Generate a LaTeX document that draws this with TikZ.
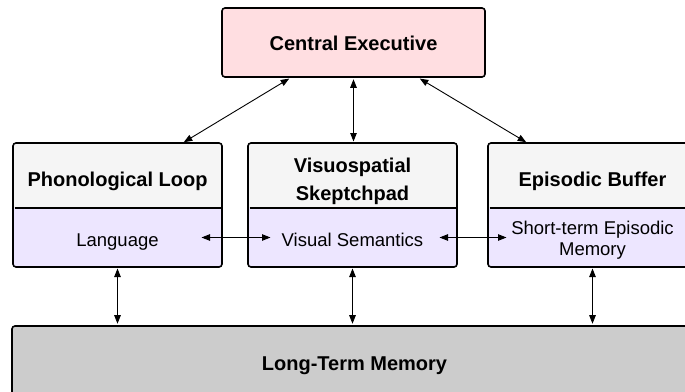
\documentclass[tikz,border=0pt]{standalone}
\usepackage{fontspec}
\setmainfont{Liberation Sans}
\usetikzlibrary{arrows.meta,positioning}
\definecolor{cepink}{RGB}{255,222,225}
\definecolor{bodylilac}{RGB}{237,230,255}
\definecolor{headgrey}{RGB}{245,245,245}
\definecolor{ltmgrey}{RGB}{204,204,204}

\begin{document}
\begin{tikzpicture}[x=1pt,y=-1pt,<->,>={Triangle[length=8.5pt,width=6.5pt]},
        line width=0.9pt,shorten >=1.5pt,shorten <=1.5pt,
        titlefont/.style={font=\fontsize{20}{28}\selectfont\bfseries},
        head/.style={titlefont,fill=headgrey,minimum width=209pt,
          minimum height=65pt,inner sep=0pt,outer sep=0pt,align=center,
          text height=25pt,text depth=4pt},
        body/.style={font=\fontsize{18.5}{20.5}\selectfont,fill=bodylilac,
          minimum width=209pt,minimum height=59pt,inner sep=0pt,
          outer sep=0pt,align=center,text height=21pt,text depth=4pt},
        outline/.style={-,draw,line width=1.6pt,rounded corners=3pt}]
  \clip (0,0) rectangle (685,391);

  \node[titlefont,outline,fill=cepink,minimum width=263pt,
        minimum height=69pt,inner sep=0pt,text height=20.5pt,
        text depth=4pt] (ce) at (353.5,42.5) {Central Executive};

  \node[head] (plh) at (117.5,175.5) {Phonological Loop};
  \node[body] (plb) [below=0pt of plh] {Language};
  \node[head,text height=53pt] (vsh) at (352.5,175.5) {Visuospatial\\Skeptchpad};
  \node[body] (vsb) [below=0pt of vsh] {Visual Semantics};
  \node[head] (ebh) at (592.5,175.5) {Episodic Buffer};
  \node[body,text height=39pt] (ebb) [below=0pt of ebh] {Short-term Episodic\\Memory};

  \node[titlefont,outline,fill=ltmgrey,minimum width=685pt,
        minimum height=74pt,inner sep=0pt,text height=19pt,
        text depth=4pt] (ltm) at (354.5,363) {Long-Term Memory};

  % box outlines and dividers
  \foreach \m in {pl,vs,eb} {
    \draw[outline] (\m h.north west) rectangle (\m b.south east);
    \draw[-,line width=1.6pt] (\m b.north west) -- (\m b.north east);
  }

  \draw ([xshift=-63pt]ce.south) -- ([xshift=65pt]plh.north);
  \draw (ce.south) -- (ce.south |- vsh.north);
  \draw ([xshift=65pt]ce.south) -- ([xshift=-65pt]ebh.north);

  \draw ([xshift=82.5pt]plb.center) -- ([xshift=-80.5pt]vsb.center);
  \draw ([xshift=85.5pt]vsb.center) -- ([xshift=-84.5pt]ebb.center);

  \foreach \m in {pl,vs,eb}
    \draw (\m b.south) -- (\m b.south |- ltm.north);
\end{tikzpicture}
\end{document}
